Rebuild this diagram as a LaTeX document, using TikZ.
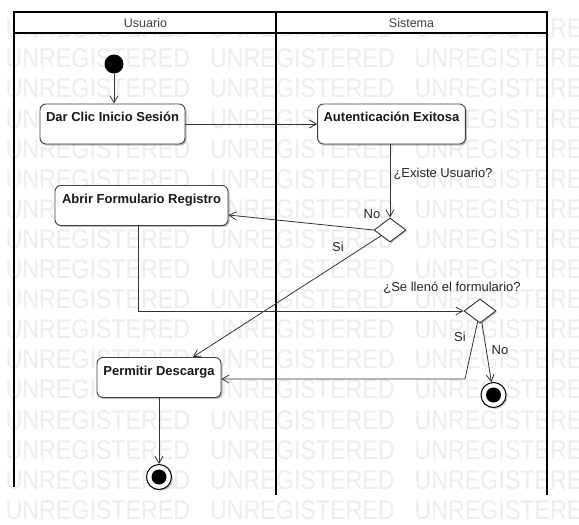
\documentclass[tikz,border=0pt]{standalone}
\usepackage{fontspec}
\setmainfont{Liberation Sans}
\usetikzlibrary{arrows.meta,shapes.geometric,shadows,calc}

\begin{document}
\begin{tikzpicture}[x=1pt,y=-1pt,
  lane/.style={draw=black, line width=1.5pt},
  hdr/.style={font=\fontsize{12.5}{14}\selectfont, text=black!75, inner sep=0},
  wm/.style={font=\fontsize{27}{27}\selectfont, text=black!7, inner sep=0, anchor=base west},
  act/.style={draw=black!75, line width=0.9pt, fill=white, rounded corners=6pt,
    font=\bfseries\fontsize{13}{15}\selectfont, text=black!90,
    text height=14.5pt, text depth=19.5pt, inner ysep=3pt, inner xsep=6pt,
    drop shadow={shadow xshift=1.5pt, shadow yshift=-1.5pt, opacity=0.25, fill=black}},
  dec/.style={diamond, draw=black!80, line width=0.9pt, fill=white, inner sep=0,
    minimum width=32pt, minimum height=24pt,
    drop shadow={shadow xshift=1.2pt, shadow yshift=-1.2pt, opacity=0.2, fill=black}},
  startnode/.style={circle, fill=black, inner sep=0, minimum size=19pt},
  endnode/.style={circle, draw=black, line width=1pt, fill=white, inner sep=0, minimum size=25pt,
    path picture={\fill[black] (path picture bounding box.center) circle (7.5pt);},
    drop shadow={shadow xshift=1.5pt, shadow yshift=-1.5pt, opacity=0.2, fill=black}},
  flow/.style={draw=black!80, line width=0.8pt, -{Straight Barb[length=7pt,width=8pt]}},
  lbl/.style={font=\fontsize{13}{15}\selectfont, text=black!85, inner sep=0}
]
\useasboundingbox (0,0) rectangle (579,525);
\fill[white] (0,0) rectangle (579,525);

% background watermark rows
\begin{scope}
  \clip (0,0) rectangle (579,525);
  \foreach \k in {0,...,16} {
    \foreach \xx [count=\c] in {5.5,210,414.5} {
      \node[wm] (wm\k-\c) at (\xx, 28+30.1*\k+9.7) {\scalebox{0.86}[1]{UNREGISTERED}};
    }
  }
\end{scope}

% swimlanes
\draw[lane, fill=white] (14,12) rectangle (547,33);
\draw[lane] (14,33) -- (14,487);
\draw[lane] (276,12) -- (276,495);
\draw[lane] (547,33) -- (547,495);
\node[hdr] (hu) at (145.5,23) {Usuario};
\node[hdr] (hs) at (411.5,23) {Sistema};

% activities and control nodes
\node[startnode] (ini) at (114,64) {};
\node[act, minimum width=145pt] (dar) at (112.5,124) {Dar Clic Inicio Sesión};
\node[act, minimum width=147pt] (aut) at (391.5,124) {Autenticación Exitosa};
\node[dec] (d1) at (390,230) {};
\node[act, minimum width=173pt] (abr) at (141.5,205.5) {Abrir Formulario Registro};
\node[dec] (d2) at (480,311) {};
\node[act, minimum width=124pt] (per) at (159,377.5) {Permitir Descarga};
\node[endnode] (f1) at (159,477) {};
\node[endnode] (f2) at (493.5,395) {};
\coordinate (c2) at (465,379);

% transitions
\draw[flow] (ini) -- (ini |- dar.north);
\draw[flow] (dar) -- (aut);
\draw[flow] (d1 |- aut.south) -- (d1.north);
\draw[flow] (d1.west) -- ([yshift=-9.5pt]abr.east);
\draw[flow] (d1) -- ([xshift=34pt]per.north);
\draw[flow] ([xshift=-3.5pt]abr.south) |- (d2.west);
\draw[flow] (d2) -- (c2) -- (c2 -| per.east);
\draw[flow] (d2) -- (f2);
\draw[flow] (per) -- (f1);

% guard labels
\node[lbl] (l1) at (443,174) {¿Existe Usuario?};
\node[lbl] (l2) at (372,214) {No};
\node[lbl] (l3) at (338,247) {Si};
\node[lbl] (l4) at (452,288) {¿Se llenó el formulario?};
\node[lbl] (l5) at (460,337) {Si};
\node[lbl] (l6) at (500,350) {No};
\end{tikzpicture}
\end{document}
